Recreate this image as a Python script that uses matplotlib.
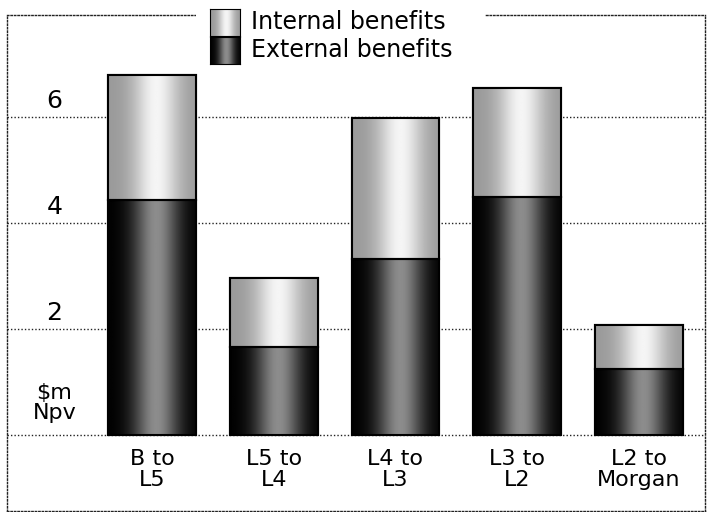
import numpy as np
import matplotlib.pyplot as plt

# NPV of benefits per section ($m)
sections = ["B to\nL5", "L5 to\nL4", "L4 to\nL3", "L3 to\nL2", "L2 to\nMorgan"]
external = [4.43, 1.66, 3.32, 4.49, 1.25]
internal = [2.36, 1.30, 2.66, 2.06, 0.83]
yticks = [2, 4, 6]

plt.rcParams['font.family'] = ['DejaVu Sans']

fig = plt.figure(figsize=(7.07, 5.12), dpi=100)
ax = fig.add_axes([0.0099, 0.002, 0.987, 0.969])
ax.set_zorder(0)


def shade(lo, hi, n=200):
    # cylinder-style shading across the bar width
    t = np.linspace(0, 1, n)
    g = lo + (hi - lo) * np.exp(-((t - 0.55) / 0.26) ** 2)
    return g[np.newaxis, :]


EXT_SHADE = (0.0, 0.55)
INT_SHADE = (0.6, 0.96)

x = np.arange(len(sections))
width = 0.72
bars_ext = ax.bar(x, external, width, color='black', edgecolor='black', linewidth=1.5, zorder=2)
bars_int = ax.bar(x, internal, width, bottom=external, color='#bbbbbb',
                  edgecolor='black', linewidth=1.5, zorder=2)

for bars, (lo, hi) in [(bars_ext, EXT_SHADE), (bars_int, INT_SHADE)]:
    for p in bars:
        im = ax.imshow(shade(lo, hi), cmap='gray', vmin=0, vmax=1, aspect='auto',
                       extent=[p.get_x(), p.get_x() + p.get_width(),
                               p.get_y(), p.get_y() + p.get_height()],
                       zorder=3, interpolation='bilinear')
        im.set_clip_path(p)
        edge = plt.Rectangle((p.get_x(), p.get_y()), p.get_width(), p.get_height(),
                             fill=False, edgecolor='black', linewidth=1.5, zorder=4)
        ax.add_patch(edge)

# dotted grid lines, including the zero line
for v in [0] + yticks:
    ax.axhline(v, color='#222222', linestyle=(0, (1, 1.5)), linewidth=1.0, zorder=1)

ax.set_xlim(-1.19, 4.54)
ax.set_ylim(-1.434, 7.925)
ax.set_xticks([])
ax.set_yticks([])
for s in ax.spines.values():
    s.set_linestyle((0, (1, 1.5)))
    s.set_linewidth(1.0)
    s.set_color('#222222')

# y labels sit just above their grid lines
for v in yticks:
    ax.text(-0.80, v + 0.30, str(v), ha='center', va='center', fontsize=18)
ax.text(-0.80, 0.60, "$m\nNpv", ha='center', va='center', fontsize=16,
        linespacing=1.0)

for i, lab in enumerate(sections):
    ax.text(i, -0.26, lab, ha='center', va='top', fontsize=16, linespacing=1.05)

# legend with shaded swatches, on a white patch over the top frame line
leg_bg = plt.Rectangle((196 / 707, 0.90), 289 / 707, 0.10, transform=fig.transFigure,
                       facecolor='white', edgecolor='none', zorder=1)
fig.patches.append(leg_bg)
for row, (label, shd) in enumerate([("Internal benefits", INT_SHADE),
                                    ("External benefits", EXT_SHADE)]):
    yc = 1 - (22 + row * 28) / 512
    sw = fig.add_axes([210 / 707, yc - 14 / 512, 30 / 707, 27 / 512])
    sw.set_zorder(2)
    sw.imshow(shade(*shd), cmap='gray', vmin=0, vmax=1, aspect='auto',
              interpolation='bilinear')
    sw.set_xticks([])
    sw.set_yticks([])
    for s in sw.spines.values():
        s.set_linewidth(0.8)
    fig.text(251 / 707, yc, label, ha='left', va='center', fontsize=17, zorder=3)

fig.savefig("out.png", dpi=100)
